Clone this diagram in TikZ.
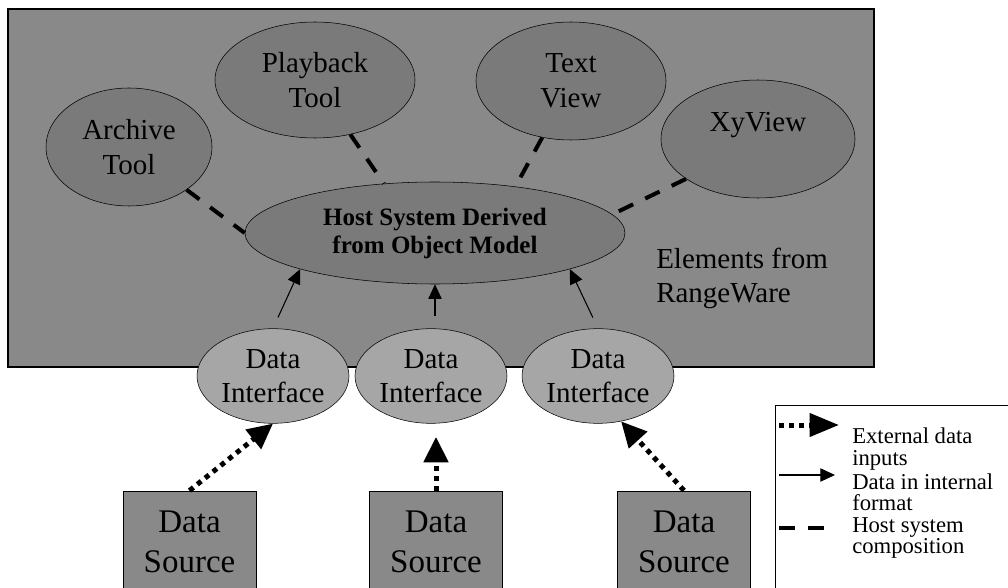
\documentclass[tikz,border=0pt]{standalone}
\usepackage{fontspec}
\setmainfont{Liberation Serif}
\usetikzlibrary{shapes.geometric}
\usetikzlibrary{arrows.meta}
\definecolor{rwgray}{HTML}{898989}
\definecolor{toolgray}{HTML}{7A7A7A}
\definecolor{ifgray}{HTML}{A6A6A6}
\tikzstyle{tool}=[draw=black,fill=toolgray,ellipse,inner sep=0pt,align=center,font=\fontsize{21.75}{26}\selectfont]
\tikzstyle{iface}=[draw=black,fill=ifgray,ellipse,inner sep=0pt,minimum width=114pt,minimum height=71pt,align=center,font=\fontsize{21.75}{25}\selectfont]
\tikzstyle{source}=[draw=black,fill=rwgray,inner sep=0pt,minimum width=100pt,minimum height=76pt,align=center,font=\fontsize{24.75}{30}\selectfont]
\tikzstyle{comp}=[line width=3pt,dash pattern=on 12pt off 10pt]
\tikzstyle{internal}=[line width=0.8pt,-{Triangle[length=11pt,width=10pt]}]
\tikzstyle{external}=[line width=3.75pt,dash pattern=on 3.75pt off 3.75pt,-{Triangle[length=19pt,width=18pt]}]
\tikzstyle{keytext}=[anchor=west,inner sep=0pt,align=left,font=\fontsize{17}{16}\selectfont]

\begin{document}
\begin{tikzpicture}[x=0.75pt,y=-0.75pt]
      \useasboundingbox (0,0) rectangle (1008,588);
      \clip (0,0) rectangle (1008,588);
      \draw[fill=rwgray,line width=0.9pt] (8,9) rectangle (874,367);

      \node[tool,minimum width=124.5pt,minimum height=88.5pt] (arch) at (129,147) {Archive\\Tool};
      \node[tool,minimum width=150pt,minimum height=87pt] (play) at (315,80) {Playback\\Tool};
      \node[tool,minimum width=142.5pt,minimum height=88.5pt] (txt) at (571,81) {Text\\View};
      \node[tool,minimum width=145.5pt,minimum height=88.5pt] (xy) at (758,139) {XyView\\\mbox{}};
      \node[tool,minimum width=285pt,minimum height=76.5pt,font=\fontsize{18.75}{21}\selectfont\bfseries] (host) at (435,233) {Host System Derived\\from Object Model};
      \node[anchor=west,inner sep=0pt,align=left,font=\fontsize{21.75}{25.5}\selectfont] (rw) at (656,278) {Elements from\\RangeWare};

      \foreach \i/\a/\b in {1/273/189.5,2/431/436,3/598/684}{
        \node[iface] (di\i) at (\a,376) {Data\\Interface};
        \node[source] (ds\i) at (\b,541.5) {Data\\Source};
      }

      \draw[comp] (arch) -- (host.west);
      \draw[comp] (play.-57) -- (host.136);
      \draw[comp] (txt.-117) -- (host.30);
      \draw[comp] (xy.209) -- (host.6);

      \draw[internal,shorten <=9pt] (di1.north) -- (host.195);
      \draw[internal,shorten <=9pt] (host.south |- di2.north) -- (host.south);
      \draw[internal,shorten <=9pt] (di3.north) -- (host.-15);

      \draw[external] (ds1.north) -- (di1.south);
      \draw[external,shorten >=10pt] (ds2.north) -- (ds2.north |- di2.south);
      \draw[external] (ds3.north) -- (di3.-63);

      \node[draw,line width=0.9pt,anchor=north west,minimum width=180pt,minimum height=150pt] (key) at (775,405) {};
      \coordinate (k1a) at (779,425);
      \coordinate (k1b) at (839,425);
      \coordinate (k2a) at (779,475);
      \coordinate (k2b) at (835,475);
      \coordinate (k3a) at (779,528);
      \coordinate (k3b) at (829,528);
      \draw[external,-{Triangle[length=22pt,width=17pt]}] (k1a) -- (k1b);
      \draw[internal] (k2a) -- (k2b);
      \draw[comp,line width=3.5pt] (k3a) -- (k3b);
      \node[keytext] (key1) at (852,449) {External data\\inputs};
      \node[keytext] (key2) at (852,492) {Data in internal\\format};
      \node[keytext] (key3) at (852,538) {Host system\\composition};
\end{tikzpicture}
\end{document}
